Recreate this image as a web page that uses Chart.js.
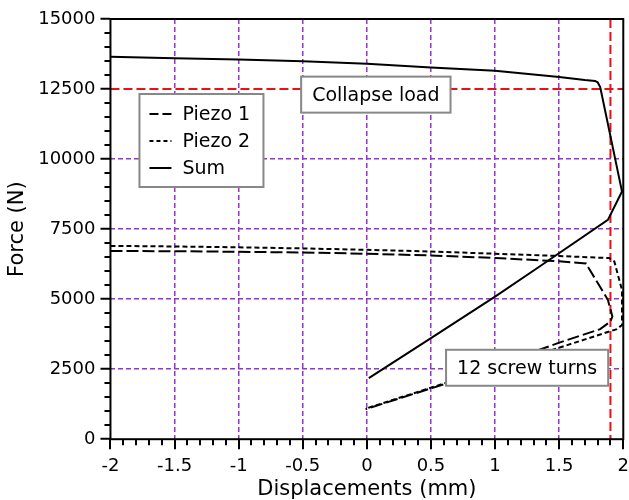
<!DOCTYPE html>
<html lang="en">

<head>
    <meta charset="UTF-8">
    <title>Force vs displacement</title>
    <script src="https://cdn.jsdelivr.net/npm/chart.js"></script>
    <style>
        html, body { margin: 0; padding: 0; background: #fff; }
        .chart-box { width: 629px; height: 500px; }
    </style>
</head>

<body>

    <div class="chart-box">
        <canvas id="force-chart"></canvas>
    </div>

    <script>
        // values
        const piezo1X = [-2, -1.5, -1, -0.5, 0, 0.5, 1, 1.5, 1.71, 1.73, 1.88, 1.915, 1.9, 1.82, 1.49, 0.61, -0.01];
        const piezo1Y = [6720, 6710, 6690, 6665, 6620, 6560, 6470, 6350, 6270, 6110, 4975, 4380, 4200, 3930, 3430, 1975, 1070];

        const piezo2X = [-2, -1.5, -1, -0.5, 0, 0.5, 1, 1.5, 1.89, 1.93, 1.99, 1.99, 1.95, 1.49, 0.61, -0.01];
        const piezo2Y = [6900, 6880, 6850, 6810, 6760, 6700, 6620, 6540, 6465, 6345, 5330, 4080, 3930, 3250, 2000, 1090];

        const sumX = [-2, -1.5, -1, -0.5, 0, 0.5, 1, 1.5, 1.7, 1.78, 1.8, 1.82, 1.99, 1.88, 1.33, 1, 0.5, 0.015];
        const sumY = [13650, 13600, 13550, 13490, 13400, 13270, 13150, 12930, 12820, 12790, 12740, 12570, 8840, 7830, 6110, 5090, 3610, 2180];

        const seriesNames = ['Piezo 1', 'Piezo 2', 'Sum'];
        const seriesDash = [[12, 4], [5, 3], []];
        const legendDash = [[9, 4], [4, 3], []];

        const collapseLoad = 12500;
        const screwTurnsX = 1.9;

        const notes = [
            { text: 'Collapse load', x: 0.07, y: 12300 },
            { text: '12 screw turns', x: 1.25, y: 2550 }
        ];

        const gridPurple = '#9933cc';
        const redLine = '#e8101a';

        function toPoints(xs, ys) {
            return xs.map((x, i) => ({ x: x, y: ys[i] }));
        }

        const overlay = {
            id: 'overlay',
            beforeDatasetsDraw(chart) {
                const ctx = chart.ctx;
                const area = chart.chartArea;
                const xs = chart.scales.x;
                const ys = chart.scales.y;
                ctx.save();
                ctx.strokeStyle = redLine;
                ctx.lineWidth = 2;
                ctx.setLineDash([9, 4]);
                const yp = ys.getPixelForValue(collapseLoad);
                ctx.beginPath();
                ctx.moveTo(area.left, yp);
                ctx.lineTo(area.right, yp);
                ctx.stroke();
                const xp = xs.getPixelForValue(screwTurnsX);
                ctx.beginPath();
                ctx.moveTo(xp, area.top);
                ctx.lineTo(xp, area.bottom);
                ctx.stroke();
                ctx.restore();
            },
            afterDatasetsDraw(chart) {
                const ctx = chart.ctx;
                const area = chart.chartArea;
                const xs = chart.scales.x;
                const ys = chart.scales.y;
                ctx.save();

                // frame
                ctx.setLineDash([]);
                ctx.strokeStyle = '#000';
                ctx.lineWidth = 2;
                ctx.strokeRect(area.left, area.top, area.right - area.left, area.bottom - area.top);

                // minor ticks
                for (let v = 500; v < 15000; v += 500) {
                    if (v % 2500 === 0) continue;
                    const p = Math.round(ys.getPixelForValue(v));
                    ctx.beginPath();
                    ctx.moveTo(area.left - 6, p);
                    ctx.lineTo(area.left, p);
                    ctx.stroke();
                }
                // x ticks, major every 0.5, minor every 0.1
                for (let i = -20; i <= 20; i++) {
                    const len = i % 5 === 0 ? 10 : 6;
                    const p = Math.round(xs.getPixelForValue(i / 10));
                    ctx.beginPath();
                    ctx.moveTo(p, area.bottom);
                    ctx.lineTo(p, area.bottom + len);
                    ctx.stroke();
                }

                // note boxes
                ctx.font = '19px "DejaVu Sans"';
                ctx.textBaseline = 'middle';
                ctx.textAlign = 'center';
                notes.forEach(n => {
                    const cx = xs.getPixelForValue(n.x);
                    const cy = ys.getPixelForValue(n.y);
                    const w = ctx.measureText(n.text).width + 22;
                    const h = 36;
                    ctx.fillStyle = '#fff';
                    ctx.fillRect(cx - w / 2, cy - h / 2, w, h);
                    ctx.strokeStyle = '#888';
                    ctx.lineWidth = 2;
                    ctx.strokeRect(cx - w / 2, cy - h / 2, w, h);
                    ctx.fillStyle = '#000';
                    ctx.fillText(n.text, cx, cy + 1);
                });

                // legend box
                const lx = area.left + 29;
                const ly = area.top + 75;
                ctx.fillStyle = '#fff';
                ctx.fillRect(lx, ly, 124, 93);
                ctx.strokeStyle = '#888';
                ctx.strokeRect(lx, ly, 124, 93);
                ctx.textAlign = 'left';
                seriesNames.forEach((name, i) => {
                    const rowY = ly + 20 + i * 27;
                    ctx.strokeStyle = '#000';
                    ctx.lineWidth = 2;
                    ctx.setLineDash(legendDash[i]);
                    ctx.beginPath();
                    ctx.moveTo(lx + 10, rowY);
                    ctx.lineTo(lx + 32, rowY);
                    ctx.stroke();
                    ctx.setLineDash([]);
                    ctx.fillStyle = '#000';
                    ctx.fillText(name, lx + 43, rowY + 1);
                });

                ctx.restore();
            }
        };

        document.addEventListener('DOMContentLoaded', function () {
            Chart.defaults.font.family = '"DejaVu Sans", sans-serif';
            Chart.defaults.color = '#000';

            const ctx = document.getElementById('force-chart').getContext('2d');

            const allX = [piezo1X, piezo2X, sumX];
            const allY = [piezo1Y, piezo2Y, sumY];

            new Chart(ctx, {
                type: 'scatter',
                data: {
                    datasets: seriesNames.map((name, i) => ({
                        label: name,
                        data: toPoints(allX[i], allY[i]),
                        showLine: true,
                        borderColor: '#000',
                        borderWidth: 2,
                        borderDash: seriesDash[i],
                        pointRadius: 0,
                        tension: 0
                    }))
                },
                options: {
                    responsive: true,
                    maintainAspectRatio: false,
                    animation: false,
                    layout: { padding: { top: 19, right: 0, left: 5, bottom: 0 } },
                    plugins: {
                        legend: { display: false },
                        tooltip: { enabled: false }
                    },
                    scales: {
                        x: {
                            type: 'linear',
                            min: -2,
                            max: 2,
                            ticks: {
                                stepSize: 0.5,
                                font: { size: 18, lineHeight: 1.1 },
                                padding: 0,
                                maxRotation: 0,
                                callback: v => String(Math.round(v * 10) / 10)
                            },
                            grid: {
                                color: c => (c.tick && Math.abs(c.tick.value) < 1.99) ? gridPurple : 'rgba(0,0,0,0)',
                                tickColor: 'rgba(0,0,0,0)',
                                tickLength: 17,
                                lineWidth: 1.5
                            },
                            border: { display: false, dash: [5, 3] },
                            title: {
                                display: true,
                                text: 'Displacements (mm)',
                                font: { size: 21, lineHeight: 1 },
                                padding: { top: 3, bottom: 0 }
                            }
                        },
                        y: {
                            min: 0,
                            max: 15000,
                            ticks: {
                                stepSize: 2500,
                                font: { size: 18 },
                                padding: 5,
                                callback: v => String(v)
                            },
                            grid: {
                                color: c => (c.tick && c.tick.value > 0 && c.tick.value < 15000 && c.tick.value !== collapseLoad) ? gridPurple : 'rgba(0,0,0,0)',
                                tickColor: '#000',
                                tickWidth: 2,
                                tickLength: 10,
                                lineWidth: 1.5
                            },
                            border: { display: false, dash: [5, 3] },
                            title: {
                                display: true,
                                text: 'Force (N)',
                                font: { size: 21 },
                                padding: { top: 0, bottom: 3 }
                            }
                        }
                    }
                },
                plugins: [overlay]
            });
        });
    </script>

</body>

</html>
